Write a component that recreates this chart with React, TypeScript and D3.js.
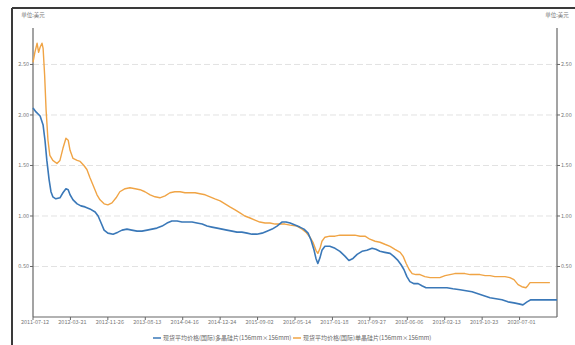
import React from "react";
import * as d3 from "d3";

const tickLabels = [
  "2011-07-12", "2012-03-21", "2012-11-26", "2013-08-13", "2014-04-16",
  "2014-12-24", "2015-09-02", "2016-05-14", "2017-01-18", "2017-09-27",
  "2018-06-06", "2019-02-13", "2019-10-23", "2020-07-01",
];
const yTicks = [0.5, 1.0, 1.5, 2.0, 2.5];
const seriesNames = [
  "现货平均价格(国际)多晶硅片(156mm×156mm)",
  "现货平均价格(国际)单晶硅片(156mm×156mm)",
];
const unitLabel = "单位:美元";

// x positions in tick-interval units
const orangeX = [0.00,0.05,0.11,0.15,0.19,0.24,0.27,0.31,0.35,0.40,0.45,0.53,0.64,0.72,0.80,0.88,0.94,0.99,1.07,1.18,1.26,1.36,1.44,1.52,1.60,1.71,1.79,1.90,2.00,2.11,2.22,2.32,2.46,2.59,2.73,2.86,2.99,3.13,3.26,3.39,3.53,3.66,3.79,3.93,4.06,4.19,4.33,4.46,4.60,4.73,4.86,5.00,5.13,5.26,5.40,5.53,5.66,5.80,5.93,6.06,6.20,6.33,6.47,6.60,6.73,6.87,7.05,7.19,7.29,7.40,7.48,7.56,7.61,7.67,7.72,7.80,7.93,8.07,8.20,8.34,8.47,8.60,8.74,8.87,9.00,9.14,9.27,9.40,9.54,9.67,9.81,9.89,9.97,10.05,10.13,10.23,10.34,10.47,10.61,10.74,10.87,11.01,11.14,11.27,11.41,11.54,11.68,11.81,11.94,12.08,12.21,12.34,12.48,12.61,12.74,12.85,12.96,13.06,13.17,13.22,13.28,13.41,13.55,13.68,13.81];
const orangeV = [2.52,2.62,2.71,2.62,2.67,2.71,2.66,2.40,2.05,1.75,1.60,1.55,1.52,1.55,1.67,1.77,1.75,1.65,1.57,1.55,1.54,1.50,1.46,1.38,1.31,1.21,1.16,1.12,1.11,1.13,1.18,1.24,1.27,1.28,1.27,1.26,1.24,1.21,1.19,1.18,1.20,1.23,1.24,1.24,1.23,1.23,1.23,1.22,1.21,1.19,1.17,1.15,1.12,1.09,1.06,1.03,1.00,0.98,0.96,0.94,0.93,0.93,0.92,0.92,0.92,0.91,0.90,0.87,0.84,0.79,0.74,0.66,0.63,0.68,0.75,0.79,0.80,0.80,0.81,0.81,0.81,0.81,0.80,0.80,0.77,0.75,0.74,0.72,0.70,0.67,0.64,0.60,0.53,0.47,0.43,0.42,0.42,0.40,0.39,0.39,0.39,0.41,0.42,0.43,0.43,0.43,0.42,0.42,0.42,0.41,0.41,0.40,0.40,0.40,0.39,0.37,0.32,0.30,0.29,0.31,0.34,0.34,0.34,0.34,0.34];

const blueX = [0.00,0.08,0.19,0.27,0.32,0.37,0.43,0.48,0.53,0.61,0.72,0.80,0.88,0.94,0.99,1.07,1.18,1.28,1.39,1.52,1.66,1.74,1.82,1.90,2.00,2.14,2.27,2.38,2.51,2.64,2.78,2.91,3.05,3.18,3.31,3.45,3.58,3.71,3.85,3.98,4.11,4.25,4.38,4.52,4.65,4.78,4.92,5.05,5.18,5.32,5.45,5.58,5.72,5.85,5.98,6.12,6.25,6.39,6.52,6.65,6.76,6.87,7.00,7.13,7.24,7.35,7.43,7.51,7.56,7.61,7.67,7.72,7.80,7.93,8.07,8.20,8.34,8.44,8.55,8.66,8.79,8.92,9.06,9.16,9.27,9.40,9.54,9.64,9.75,9.83,9.91,9.99,10.07,10.18,10.29,10.39,10.50,10.66,10.87,11.06,11.22,11.41,11.57,11.73,11.89,12.05,12.21,12.37,12.53,12.69,12.85,12.98,13.09,13.20,13.30,13.44,13.68,14.00];
const blueV = [2.07,2.03,1.99,1.90,1.75,1.55,1.36,1.24,1.19,1.17,1.18,1.23,1.27,1.26,1.21,1.16,1.12,1.10,1.09,1.07,1.04,1.00,0.93,0.86,0.83,0.82,0.84,0.86,0.87,0.86,0.85,0.85,0.86,0.87,0.88,0.90,0.93,0.95,0.95,0.94,0.94,0.94,0.93,0.92,0.90,0.89,0.88,0.87,0.86,0.85,0.84,0.84,0.83,0.82,0.82,0.83,0.85,0.87,0.90,0.94,0.94,0.93,0.91,0.89,0.87,0.83,0.76,0.66,0.58,0.53,0.59,0.66,0.70,0.70,0.68,0.65,0.60,0.56,0.58,0.62,0.65,0.66,0.68,0.67,0.65,0.64,0.63,0.60,0.56,0.52,0.47,0.40,0.35,0.33,0.33,0.31,0.29,0.29,0.29,0.29,0.28,0.27,0.26,0.25,0.23,0.21,0.19,0.18,0.17,0.15,0.14,0.13,0.12,0.15,0.17,0.17,0.17,0.17];

const W = 575, H = 345;
const M = { left: 33, right: 557, top: 28, bottom: 317 };
const BLUE = "#3a78b8";
const ORANGE = "#f0a445";
const FONT = "'Noto Sans CJK SC', 'Noto Sans', sans-serif";

export default function App() {
  const x = d3.scaleLinear().domain([0, 14]).range([M.left, M.right]);
  const y = d3.scaleLinear().domain([0, 2.861]).range([M.bottom, M.top]);
  const line = d3.line<[number, number]>().x(d => x(d[0])).y(d => y(d[1])).curve(d3.curveLinear);
  const blueD = line(blueX.map((v, i) => [v, blueV[i]] as [number, number])) || "";
  const orangeD = line(orangeX.map((v, i) => [v, orangeV[i]] as [number, number])) || "";
  const tickColor = "#777";

  return (
    <svg width={W} height={H} style={{ position: "absolute", left: 0, top: 0, display: "block", background: "#fff" }} fontFamily={FONT}>
      {/* photo frame */}
      <line x1={12} y1={8} x2={575} y2={8} stroke="#3a3a3a" strokeWidth={2} />
      <line x1={12} y1={8} x2={12} y2={345} stroke="#3a3a3a" strokeWidth={2} />

      {/* gridlines */}
      {yTicks.map(t => (
        <line key={"g" + t} x1={M.left} x2={M.right} y1={y(t)} y2={y(t)} stroke="#e2e2e2" strokeWidth={1} strokeDasharray="6,3" />
      ))}

      {/* axes */}
      <line x1={M.left} y1={M.top} x2={M.left} y2={M.bottom} stroke="#666" strokeWidth={1.2} />
      <line x1={M.right} y1={M.top} x2={M.right} y2={M.bottom} stroke="#666" strokeWidth={1.2} />
      <line x1={M.left} y1={M.bottom} x2={M.right} y2={M.bottom} stroke="#666" strokeWidth={1.2} />

      {yTicks.map(t => (
        <g key={"yt" + t}>
          <line x1={M.left - 3} x2={M.left} y1={y(t)} y2={y(t)} stroke="#666" />
          <text x={M.left - 4} y={y(t)} dy="0.35em" textAnchor="end" fontSize={5.5} fill={tickColor}>{t.toFixed(2)}</text>
          <line x1={M.right} x2={M.right + 3} y1={y(t)} y2={y(t)} stroke="#666" />
          <text x={M.right + 4} y={y(t)} dy="0.35em" textAnchor="start" fontSize={5.5} fill={tickColor}>{t.toFixed(2)}</text>
        </g>
      ))}
      <text x={M.left} y={17} textAnchor="middle" fontSize={5.5} fill={tickColor}>{unitLabel}</text>
      <text x={M.right} y={17} textAnchor="middle" fontSize={5.5} fill={tickColor}>{unitLabel}</text>

      {tickLabels.map((lab, i) => (
        <g key={"xt" + i}>
          <line x1={x(i)} x2={x(i)} y1={M.bottom} y2={M.bottom + 3} stroke="#666" />
          <text x={x(i) + 2} y={M.bottom + 7} textAnchor="middle" fontSize={5.5} fill={tickColor}>{lab}</text>
        </g>
      ))}

      {/* series */}
      <path d={orangeD} fill="none" stroke={ORANGE} strokeWidth={1.4} strokeLinejoin="round" />
      <path d={blueD} fill="none" stroke={BLUE} strokeWidth={1.6} strokeLinejoin="round" />

      {/* legend */}
      <g transform="translate(153,338)">
        <line x1={0} x2={8} y1={0} y2={0} stroke={BLUE} strokeWidth={1.5} />
        <text x={10} y={0} dy="0.35em" fontSize={6} fill="#666">{seriesNames[0]}</text>
        <line x1={140} x2={148} y1={0} y2={0} stroke={ORANGE} strokeWidth={1.5} />
        <text x={150} y={0} dy="0.35em" fontSize={6} fill="#666">{seriesNames[1]}</text>
      </g>
    </svg>
  );
}
